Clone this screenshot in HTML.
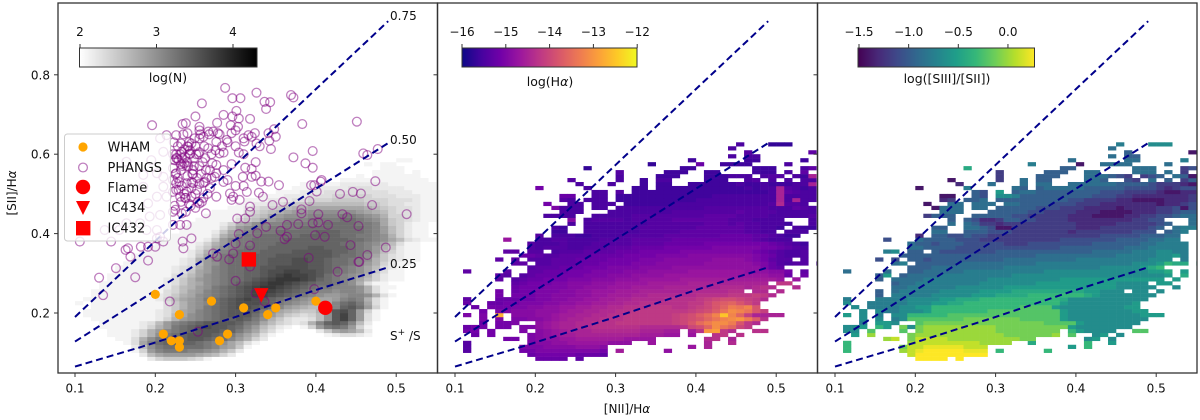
<!DOCTYPE html>
<html lang="en">
<head>
<meta charset="utf-8">
<title>[SII]/Hα versus [NII]/Hα diagnostic panels</title>
<style>
html,body{margin:0;padding:0;background:#fff;width:1200px;height:420px;overflow:hidden}
svg{display:block;filter:blur(.35px)}
text{font-family:"DejaVu Sans","Liberation Sans",sans-serif;fill:#111;font-size:12px}
</style>
</head>
<body>
<svg id="chart" width="1200" height="420" viewBox="0 0 1200 420" xmlns="http://www.w3.org/2000/svg">
<defs>
<linearGradient id="cb-gray" x1="0" x2="1" y1="0" y2="0"><stop offset="0" stop-color="#fff"/><stop offset="1" stop-color="#000"/></linearGradient>
<linearGradient id="cb-plasma" x1="0" x2="1" y1="0" y2="0"><stop offset="0" stop-color="#0d0887"/><stop offset=".111" stop-color="#46039f"/><stop offset=".222" stop-color="#7201a8"/><stop offset=".333" stop-color="#9c179e"/><stop offset=".444" stop-color="#bd3786"/><stop offset=".556" stop-color="#d8576b"/><stop offset=".667" stop-color="#ed7953"/><stop offset=".778" stop-color="#fb9f3a"/><stop offset=".889" stop-color="#fdca26"/><stop offset="1" stop-color="#f0f921"/></linearGradient>
<linearGradient id="cb-viridis" x1="0" x2="1" y1="0" y2="0"><stop offset="0" stop-color="#440154"/><stop offset=".111" stop-color="#482878"/><stop offset=".222" stop-color="#3e4989"/><stop offset=".333" stop-color="#31688e"/><stop offset=".444" stop-color="#26828e"/><stop offset=".556" stop-color="#1f9e89"/><stop offset=".667" stop-color="#35b779"/><stop offset=".778" stop-color="#6ece58"/><stop offset=".889" stop-color="#b5de2b"/><stop offset="1" stop-color="#fde725"/></linearGradient>
<clipPath id="clip-0"><rect x="58" y="3" width="379.5" height="370"/></clipPath>
<clipPath id="clip-1"><rect x="437.5" y="3" width="380" height="370"/></clipPath>
<clipPath id="clip-2"><rect x="817.5" y="3" width="379.5" height="370"/></clipPath>
</defs>
<rect width="1200" height="420" fill="#fff"/>
<g id="plots"></g>
<g id="axes"></g>

<text transform="translate(16,193) rotate(-90)" text-anchor="middle">[SII]/H<tspan font-style="italic">α</tspan></text>
<text x="627" y="413" text-anchor="middle">[NII]/H<tspan font-style="italic">α</tspan></text>

<text x="390" y="20">0.75</text>
<text x="390" y="144">0.50</text>
<text x="390" y="268">0.25</text>
<text x="390" y="340">S<tspan dy="-5" font-size="9">+</tspan><tspan dy="5"> /S</tspan></text>

<g id="legend">
<rect x="64.5" y="134" width="106" height="107" rx="3" fill="#fff" fill-opacity=".8" stroke="#ccc" stroke-width="1"/>
<circle cx="83" cy="147" r="4.6" fill="#ffa500"/>
<circle cx="83" cy="167.5" r="4.4" fill="none" stroke="#800080" stroke-opacity=".5" stroke-width="1.3"/>
<circle cx="83" cy="187" r="7.2" fill="#f00"/>
<path d="M76 201 H90 L83 215 Z" fill="#f00"/>
<rect x="76" y="221" width="14.4" height="14.4" fill="#f00"/>
<text x="107.5" y="151.5" style="font-size:13px">WHAM</text>
<text x="107.5" y="172" style="font-size:13px">PHANGS</text>
<text x="107.5" y="192" style="font-size:13px">Flame</text>
<text x="107.5" y="212" style="font-size:13px">IC434</text>
<text x="107.5" y="232.5" style="font-size:13px">IC432</text>
</g>

<g id="colorbars">
<rect x="79.5" y="48" width="177.5" height="19" fill="url(#cb-gray)" stroke="#333" stroke-width="1"/>
<text x="168" y="82" text-anchor="middle" style="font-size:12.5px">log(N)</text>
<rect x="462" y="48" width="175" height="19" fill="url(#cb-plasma)" stroke="#333" stroke-width="1"/>
<text x="550" y="86" text-anchor="middle" style="font-size:12.5px">log(H<tspan font-style="italic">α</tspan>)</text>
<rect x="858" y="48" width="176.5" height="19" fill="url(#cb-viridis)" stroke="#333" stroke-width="1"/>
<text x="947" y="83" text-anchor="middle" style="font-size:12.5px">log([SIII]/[SII])</text>
</g>
</svg>

<script>
// ---------- axis ticks ----------
const xTicks = [0.1, 0.2, 0.3, 0.4, 0.5];
const xTickLabels = ["0.1", "0.2", "0.3", "0.4", "0.5"];
const yTicks = [0.2, 0.4, 0.6, 0.8];
const yTickLabels = ["0.2", "0.4", "0.6", "0.8"];
const cbTicksN = [2, 3, 4];
const cbLabelsN = ["2", "3", "4"];
const cbTicksHa = [-16, -15, -14, -13, -12];
const cbLabelsHa = ["\u221216", "\u221215", "\u221214", "\u221213", "\u221212"];
const cbTicksS = [-1.5, -1.0, -0.5, 0.0];
const cbLabelsS = ["\u22121.5", "\u22121.0", "\u22120.5", "0.0"];

// ---------- S+/S model curves ----------
const curveNii = [0.10, 0.18, 0.30, 0.40, 0.49];
const curveSii075 = [0.190, 0.343, 0.573, 0.764, 0.935];
const curveSii050 = [0.128, 0.231, 0.385, 0.513, 0.628];
const curveSii025 = [0.065, 0.113, 0.190, 0.258, 0.315];

// ---------- point samples ----------
const whamNii = [0.20, 0.21, 0.22, 0.23, 0.23, 0.23, 0.27, 0.28, 0.29, 0.31, 0.34, 0.35, 0.40];
const whamSii = [0.247, 0.147, 0.130, 0.130, 0.114, 0.196, 0.230, 0.130, 0.147, 0.213, 0.196, 0.213, 0.230];
const flameNii = [0.4117];
const flameSii = [0.213];
const ic434Nii = [0.332];
const ic434Sii = [0.245];
const ic432Nii = [0.3165];
const ic432Sii = [0.335];

const phangsNii = [
.287,.326,.296,.306,.336,.343,.338,.369,.372,.258,.301,.285,.296,.304,.318,.25,.238,.234,.196,.255,.277,.294,.303,.383,.451,.348,.341,.35,.342,.344,.324,.316,.326,.272,.266,.278,.295,.255,.226,.214,.206,.24,.26,.276,.289,.311,.32,.266,.232,.241,.245,.233,.243,.237,.226,.28,.285,.304,.396,.372,.459,.464,.477,.387,.396,.325,.312,.32,.295,.271,.276,.255,.236,.224,.226,.247,.276,.274,.309,.32,.325,.332,.341,.354,.407,.406,.394,.398,.474,.43,.446,.456,.401,.226,.239,.247,.26,.226,.239,.245,.231,.255,.276,.293,.297,.305,.295,.314,.329,.334,.346,.359,.392,.382,.318,.47,
.513,.433,.439,.453,.415,.403,.382,.378,.364,.356,.361,.364,.396,.403,.399,.411,.443,.487,.464,.454,.453,.427,.391,.338,.327,.302,.312,.318,.304,.3,.318,.297,.292,.272,.277,.318,.3,.325,.336,.398,.245,.234,.235,.263,.231,.239,.191,.151,.13,.175,.135,.218,.253,.166,.163,.169,.182,.191,.2,.21,.202,.222,.233,.222,
.106,.145,.137,.155,.164,.181,.193,.206,.202,.206,.189,.164,.21,.195,.202,.21,.185,.21,.185,.214,.202,.191,
.228,.236,.243,.25,.222,.229,.24,.248,.222,.232,.24,.252,.222,.233,.245,.255,.262,.268,.222,.232,.242,.25,.225,.238,.27,.262,.255,.268,.285,.29,.3,.31,.283,.3,.31,.33,
.223,.227,.231,.235,.239,.243,.247,.251,.255,.259,.263,.267,.225,.229,.233,.237,.241,.245,.249,.253,.257,.261,.265,.224,.228,.232,.236,.24,.244,.248,.252,.256,.26,.264,.226,.23,.234,.238,.242,.246,.25,.254,.258,.28,.29,.3,.31,.27,.275,.285];
const phangsSii = [
.767,.755,.741,.741,.732,.731,.714,.749,.743,.728,.709,.699,.695,.69,.689,.695,.678,.676,.673,.669,.679,.673,.669,.676,.682,.663,.653,.644,.634,.613,.653,.648,.627,.657,.657,.653,.653,.64,.648,.648,.64,.653,.644,.631,.636,.632,.644,.615,.627,.619,.627,.606,.602,.594,.59,.602,.604,.604,.608,.592,.602,.598,.613,.577,.566,.58,.566,.563,.575,.577,.573,.57,.577,.585,.552,.56,.552,.543,.543,.543,.546,.531,.531,.522,.535,.531,.522,.522,.532,.5,.505,.501,.506,.527,.527,.527,.528,.51,.506,.493,.493,.476,.493,.501,.493,.485,.485,.505,.503,.493,.472,.48,.482,.461,.468,.472,
.449,.449,.441,.419,.422,.449,.451,.424,.422,.407,.386,.392,.426,.428,.396,.392,.371,.365,.346,.329,.329,.304,.339,.417,.401,.438,.438,.455,.399,.375,.37,.35,.335,.35,.342,.317,.281,.25,.229,.26,.388,.38,.363,.451,.422,.422,.332,.313,.289,.29,.245,.229,.153,.363,.359,.342,.367,.367,.367,.38,.388,.455,.451,.422,
.38,.38,.409,.409,.426,.426,.443,.447,.409,.392,.409,.581,.606,.585,.552,.543,.548,.518,.518,.493,.493,.476,
.62,.612,.61,.62,.6,.585,.58,.57,.565,.56,.545,.54,.535,.52,.515,.525,.53,.515,.505,.48,.475,.465,.46,.455,.6,.59,.605,.56,.56,.535,.52,.52,.62,.62,.6,.62,
.63,.59,.6,.65,.57,.6,.55,.6,.66,.58,.56,.65,.55,.51,.59,.49,.57,.53,.64,.48,.55,.62,.5,.47,.54,.575,.5,.62,.47,.59,.51,.65,.49,.54,.6,.53,.57,.49,.63,.55,.5,.6,.48,.65,.63,.66,.64,.54,.61,.53];

// ---------- 2-D histograms ----------
// Row index = [SII]/Halpha bin (0.08 + 0.01*row). Each row: [first [NII]/Halpha column (0.10 + 0.01*col), bin values...]; 0 = empty bin.
// Values are tenths of a dex above the colour-bar minimum.
const heatLogN = [
[9,2,4,5,5,5,4,3,1],
[8,2,6,8,9,9,9,9,8,7,6,4,2],
[7,1,4,9,11,12,12,12,11,11,10,9,7,5,2],
[7,2,6,10,12,13,13,13,13,13,12,11,9,8,5,1],
[6,1,3,8,11,13,14,14,14,14,13,12,11,10,8,6,3,1],
[5,1,1,3,7,10,12,13,14,14,15,15,14,13,13,11,9,7,4,2],
[4,1,1,1,2,4,7,10,12,13,14,15,15,15,14,13,12,10,8,6,3,1,0,0,0,0,0,0,1,2,3,3,2,1],
[4,1,1,1,2,4,7,9,11,12,13,14,15,15,15,14,14,12,10,8,5,3,1,0,0,0,0,2,5,8,9,8,6,2],
[3,1,1,1,1,1,2,4,7,9,12,13,14,15,16,15,15,14,13,11,9,6,4,2,1,0,1,4,9,12,13,12,9,4,1],
[3,1,1,1,1,1,2,3,6,9,11,12,13,14,15,15,15,15,14,12,11,8,6,4,3,2,3,7,11,14,15,14,11,6,2],
[2,1,1,1,1,1,1,1,1,2,4,7,9,10,11,12,13,14,14,15,14,12,10,7,5,3,2,2,3,6,10,15,17,14,9,3,1],
[1,1,1,1,1,1,1,1,1,1,2,3,6,8,10,11,12,13,14,15,15,15,13,11,9,7,5,4,3,4,6,10,15,17,14,9,3,1],
[1,1,1,1,1,1,1,1,1,1,2,3,5,8,9,11,12,13,14,15,15,15,14,12,10,8,7,6,5,5,7,11,15,16,14,9,4,1],
[1,0,1,1,1,1,1,1,1,1,1,3,5,7,9,10,12,13,14,15,16,16,15,14,13,11,9,8,7,6,6,8,11,14,15,13,9,4,1],
[0,1,0,1,1,1,1,1,1,1,1,1,3,5,7,9,10,11,13,14,15,16,16,16,15,14,12,11,10,9,8,7,8,11,13,14,12,8,3,1],
[1,1,1,1,1,1,1,1,1,1,2,4,6,8,9,10,12,13,14,15,16,17,16,15,14,13,12,11,10,9,8,8,9,11,12,11,7,3,1],
[2,1,1,1,1,1,1,1,1,2,3,5,7,8,10,11,12,13,14,15,16,17,17,16,15,14,13,12,11,10,9,9,10,11,11,10,7,3,1],
[2,1,1,1,1,1,1,1,1,1,3,4,6,8,9,11,12,13,14,15,16,17,18,17,16,15,14,13,12,11,11,10,11,11,10,7,3,1],
[3,1,1,1,1,1,1,1,1,2,4,6,7,9,10,12,13,14,15,16,17,18,18,17,16,15,14,13,12,12,11,11,11,10,7,3,1,1],
[3,1,1,1,1,1,1,1,1,2,3,5,7,8,10,11,12,13,14,15,16,17,18,18,17,16,15,14,13,13,12,11,10,7,3,1,1],
[4,1,1,1,1,1,1,1,2,3,5,7,9,10,11,12,13,13,14,15,16,17,18,18,18,17,16,14,13,12,11,10,8,6,4,2,1,1],
[4,1,1,1,1,1,1,1,1,3,4,6,8,10,11,12,13,13,14,14,15,16,17,18,17,17,16,15,13,12,11,10,9,7,4,2,1,1],
[5,1,1,1,1,1,1,1,2,3,5,8,9,11,12,13,13,14,14,15,16,16,17,17,16,16,15,14,13,12,11,10,8,5,3,1,1],
[5,1,1,1,1,1,1,1,2,3,4,7,9,11,12,13,13,14,14,15,15,16,16,16,16,15,15,14,13,12,11,10,8,6,3,2,1],
[6,1,1,1,1,1,1,1,2,3,6,9,10,12,13,13,14,14,14,15,15,15,16,16,15,15,14,13,13,12,11,9,7,4,2,1,1],
[7,1,1,1,1,1,1,2,3,7,9,11,12,13,13,13,14,14,15,15,15,16,16,15,15,14,13,13,12,11,10,7,5,3,2,1,1],
[7,1,1,1,1,1,1,1,2,5,8,10,12,13,13,13,14,14,14,15,15,15,15,15,15,15,14,13,13,12,10,8,5,3,2,1,1],
[8,1,1,1,1,1,1,2,4,7,9,11,12,13,13,13,14,14,14,14,15,15,15,15,15,14,14,13,12,11,9,6,4,2,1,1],
[9,1,1,1,1,1,1,3,5,8,10,11,12,13,13,13,14,14,14,14,14,15,15,14,14,14,13,12,11,9,7,5,2,1,1],
[10,1,1,1,1,1,2,4,7,9,11,12,12,13,13,13,14,14,14,14,14,14,14,14,13,13,12,11,10,8,6,3,1,1],
[11,1,1,1,1,1,2,5,9,11,12,12,13,13,13,13,14,14,14,14,14,14,14,14,13,13,12,11,10,8,6,3,2,1,1],
[12,1,1,1,1,1,3,7,9,11,12,12,13,13,13,13,13,14,14,14,14,14,13,13,12,12,11,10,7,4,2,1,1],
[13,1,1,1,1,2,5,8,10,11,12,12,12,13,13,13,13,13,14,14,14,13,13,13,12,11,9,6,4,2,1,1],
[13,1,1,1,1,1,3,6,9,10,11,11,12,12,12,12,13,13,13,13,13,13,13,13,12,11,9,6,4,2,1,1],
[14,1,1,1,1,2,4,7,8,10,11,11,11,12,12,12,12,12,13,13,13,13,12,12,11,8,5,4,2,1,1],
[15,1,1,1,1,1,3,5,6,8,9,10,11,11,11,12,12,12,12,13,13,12,11,10,8,5,4,3,2,1,1],
[16,1,1,1,1,2,4,5,6,8,9,10,10,10,11,11,11,11,12,12,11,10,9,7,4,4,3,2,1,1],
[17,1,1,1,1,3,4,5,6,7,8,9,9,10,10,10,10,10,10,9,8,7,6,4,3,3,2,1,1],
[19,1,1,2,3,4,4,5,6,7,7,8,8,8,8,8,8,8,7,6,5,4,3,3,2,1,1],
[20,1,1,2,2,3,3,4,5,5,6,6,6,6,6,6,6,5,5,4,3,3,2,2,1,1],
[21,1,1,1,2,2,2,3,3,4,4,4,5,5,5,5,4,4,4,3,3,3,2,1,1],
[23,1,1,1,2,2,2,3,3,3,4,4,4,4,4,3,3,3,2,2,2,1,1],
[25,1,1,1,2,2,2,3,3,3,3,3,3,3,3,2,2,2,1,1,1],
[27,1,1,1,2,2,2,2,3,3,3,2,2,2,2,1,1,1,1],
[28,1,1,1,1,1,2,2,2,2,2,2,1,1,1,1,1,1],
[33,1,1,1,1,1,1,1,1,1,1,1],
[35,1,0,1,1,1,1,1,1],
[37,1,1,1,1,0,1],
[38,1,1,1],
[36,1,0,1,1],
[40,1,1]
];

const heatLogHa = [
[10,8,8,8,8,0,7],
[9,8,9,9,9,9,9,8,8,8,7],
[1,6,0,0,0,0,0,0,9,9,10,10,10,10,10,10,10,10,9,0,14,0,0,0,0,0,12],
[1,6,0,0,0,0,0,0,10,10,10,11,11,11,11,12,12,12,11,0,0,0,0,0,0,0,0,0,0,13,0,15],
[1,6,0,0,0,0,0,0,0,10,11,11,12,12,13,13,13,13,13,12,12,12,0,0,13,0,0,0,0,0,0,15,0,0,16],
[6,9,9,0,10,11,12,12,13,13,14,14,14,14,14,14,13,13,13,13,0,0,0,0,0,0,16,17,0,15],
[2,8,0,9,0,0,0,0,10,11,12,13,14,14,15,15,15,15,15,15,15,15,14,14,14,13,13,0,13,0,0,17,18,0,17],
[1,9,9,0,9,0,0,0,10,0,11,12,13,14,15,15,15,16,16,16,16,16,16,15,15,15,14,14,0,14,17,30,31,18,16,0,0,17,17],
[1,8,9,9,0,9,9,0,10,10,12,13,14,15,15,16,16,17,17,17,17,17,17,16,16,16,16,16,17,20,21,24,29,26,24,20,18],
[3,8,0,9,9,10,0,0,12,13,14,15,15,16,16,17,17,17,18,18,18,18,18,18,18,19,20,22,25,27,29,29,27,22,18,16],
[3,10,0,10,0,10,10,11,11,12,13,14,15,15,16,16,17,17,17,18,18,18,18,18,18,19,20,21,22,24,26,28,29,30,27,23,17],
[1,10,0,10,0,33,0,11,11,11,12,12,13,14,14,15,15,16,16,17,17,18,18,18,18,18,18,19,20,21,23,25,28,35,28,24,19,15,15,15,15],
[3,9,0,10,10,11,11,11,12,12,12,13,14,14,15,15,16,16,17,17,18,18,18,18,18,18,18,19,20,21,23,26,29,28,26,22,19],
[2,8,0,9,9,9,10,10,11,11,12,12,13,13,14,14,15,15,16,16,17,17,17,18,18,18,17,17,18,19,20,22,24,27,26,28,22],
[1,8,0,0,8,8,9,9,10,10,10,11,11,12,12,13,13,14,14,15,15,16,16,17,17,17,17,17,17,18,18,20,22,23,24,22,20,18],
[1,7,0,0,0,8,8,8,9,9,10,10,11,11,12,12,13,13,14,14,15,15,16,16,16,16,17,17,17,17,18,19,20,21,21,20,19,18,16],
[5,9,0,9,9,9,10,10,11,11,11,12,12,13,13,14,14,14,15,15,16,16,16,16,16,16,17,17,17,17,18,18,18,19,18,16],
[5,9,0,8,9,9,10,10,10,11,11,12,12,13,13,13,14,14,14,15,15,15,15,15,15,16,16,16,16,16,17,17,0,16,16,0,16],
[7,8,9,9,9,10,10,10,11,11,12,12,12,13,13,13,14,14,14,14,15,15,15,15,15,15,15,16,16,16,15,16,17,16,0,0,16],
[7,7,8,9,9,9,10,10,11,11,11,12,12,12,13,13,13,13,14,14,14,14,14,15,15,15,15,15,15,15,15,15,15,0,18,18],
[5,7,0,6,7,8,8,9,9,9,10,10,10,11,11,11,12,12,12,13,13,13,13,13,14,14,14,14,14,14,14,14,14,14,14,14,13,0,13],
[5,7,6,0,6,7,8,8,8,9,9,9,10,10,10,11,11,11,12,12,12,12,13,13,13,13,13,13,13,13,13,13,13,13,13,12,12,8,0,8],
[1,7,0,0,0,0,7,0,0,7,7,8,8,8,9,9,9,10,10,10,10,11,11,11,12,12,12,12,12,13,13,13,13,13,13,13,12,12,12,11,11,9,0,7],
[9,6,7,7,7,8,8,8,9,9,9,10,10,10,10,11,11,11,11,12,12,12,12,12,12,12,12,12,12,12,10,8,7],
[7,7,7,0,6,6,7,7,7,8,8,8,9,9,9,9,10,10,10,11,11,11,11,11,11,12,12,12,12,12,12,11,10,8,6,5,6,6,0,5],
[5,7,0,7,0,6,6,6,7,7,7,8,8,8,8,9,9,9,9,10,10,10,11,11,11,11,11,11,12,12,12,12,11,10,9,7,6,6,0,6],
[8,8,8,7,6,6,7,7,7,7,8,8,8,8,9,9,9,9,10,10,10,10,11,11,11,11,11,11,11,11,10,9,8,6,5,5,6],
[6,7,7,0,6,6,0,5,6,6,6,7,7,7,7,8,8,8,9,9,9,9,9,10,10,10,10,10,10,10,10,10,9,8,7,6,5,5,6],
[9,6,5,6,6,6,5,5,6,6,6,7,7,7,8,8,8,8,9,9,9,9,9,9,10,10,10,10,10,10,9,9,8,7,6,5],
[9,6,5,5,5,6,5,5,5,6,6,6,6,6,7,7,7,7,8,8,8,8,8,9,9,9,9,9,9,9,9,8,7,6,5,4],
[6,13,0,0,0,5,5,6,6,5,5,5,5,6,6,6,6,7,7,7,7,7,8,8,8,8,8,8,8,8,8,8,7,6,5,5,5],
[10,6,0,5,5,5,4,4,5,5,5,5,6,6,6,6,6,7,7,7,7,7,7,7,8,8,8,8,7,7,6,5,4,4],
[12,4,4,0,0,5,5,5,5,5,5,5,6,6,6,6,6,7,7,7,7,7,7,7,7,6,6,5,5,0,5,5,5],
[12,5,4,0,0,5,5,5,5,5,5,5,6,6,6,6,6,6,6,7,7,7,7,7,7,6,6,5,5,4,0,5,4,4],
[14,5,0,5,5,5,5,5,5,5,5,6,6,6,6,6,6,6,7,7,7,6,7,6,6,5,5,5,4,0,0,5],
[14,11,0,5,6,6,6,6,5,6,6,6,6,6,7,7,7,7,7,7,7,6,6,6,5,5,5,5,0,0,0,5],
[11,5,5,5,5,0,0,5,5,5,5,5,6,6,6,6,6,6,6,6,6,7,7,7,7,6,6,6,6,5,5,5,5,5,6],
[13,5,5,5,0,0,0,5,5,5,5,5,5,5,5,6,6,6,6,6,6,6,6,7,6,6,6,6,5,5,5,5,5],
[12,10,5,5,5,0,5,5,0,5,5,5,5,5,5,5,5,5,5,5,6,6,6,6,6,6,6,6,5,5,5,7,6,5],
[11,9,0,0,5,5,0,5,5,5,0,4,4,4,4,4,4,5,5,5,5,5,5,5,5,5,5,5,5,6,16,6,6,5],
[13,6,5,0,5,5,5,0,4,4,4,4,4,4,4,4,4,4,5,5,5,5,5,5,5,5,5,5,15,5,15,5,5],
[13,8,8,0,0,5,5,0,4,4,4,4,4,4,4,4,4,4,4,4,5,5,5,5,5,5,5,5,15,5,5,5,5],
[17,5,5,0,6,0,4,4,4,4,4,4,4,4,4,4,4,4,4,4,4,4,4,5,15,7,6,5,5],
[10,9,0,0,0,0,0,5,0,0,0,0,0,4,4,0,4,4,4,4,4,4,4,4,4,4,4,5,4,5,5,15,6,5,4,5],
[15,5,0,0,0,5,0,0,0,4,0,4,4,0,0,4,4,4,4,4,4,5,4,4,5,4,4,4,5,5,15],
[14,6,0,0,0,0,0,5,0,0,4,0,5,5,0,0,0,0,4,4,4,0,0,5,6,0,5,0,5,0,5,5],
[20,5,0,0,0,0,4,4,4,0,0,0,4,4,4,5,5,5,0,5,6,6,0,5,4,15],
[20,6,0,0,0,0,0,4,4,4,0,0,4,4,0,0,0,0,4,4,4,0,5,0,7],
[16,3,0,0,0,0,0,0,0,0,0,0,0,4,4,0,0,0,0,0,0,0,4,4,4,0,0,0,5,7],
[24,3,0,0,0,0,0,8,0,0,4,4,4,4,0,0,0,0,5],
[29,4,0,0,0,0,0,0,4,4,0,0,0,0,0,4],
[34,5,0,5,5],
[36,6,0,0,0,0,0,0,0,7],
[34,5],
[35,5,0,0,0,3,3,3]
];

const heatLogS3S2 = [
[10,17,17,18,18,0,18],
[9,15,17,17,18,18,18,17,17,17,17],
[1,11,0,0,0,0,0,0,14,15,16,17,17,17,17,17,16,16,16,0,11,0,0,0,0,0,11],
[1,11,0,0,0,0,0,0,13,15,15,16,16,16,16,16,15,15,15,0,0,0,0,0,0,0,0,0,0,9,0,11],
[1,11,0,0,0,0,0,0,0,14,15,15,15,15,15,15,15,15,14,14,14,14,0,0,10,0,0,0,0,0,0,11,0,0,9],
[6,14,15,0,13,15,15,15,15,14,14,14,14,14,14,14,14,14,13,13,0,0,0,0,0,0,8,9,0,8],
[2,9,0,14,0,0,0,0,13,14,14,14,14,14,14,14,14,14,14,14,13,13,13,13,13,13,14,0,12,0,0,8,9,0,8],
[1,8,8,0,12,0,0,0,12,0,13,14,14,14,14,14,14,14,14,14,13,13,13,13,13,13,13,13,0,11,9,8,8,8,8,0,0,12,12],
[1,8,8,9,0,11,9,0,13,8,13,14,14,14,14,14,14,14,14,14,13,13,13,13,13,13,13,13,13,9,8,8,8,8,8,8,8],
[3,7,0,9,9,8,0,0,12,13,13,13,13,13,13,13,13,13,13,13,13,13,13,13,12,12,12,12,9,8,8,8,8,8,8,8],
[3,8,0,8,0,7,8,12,12,12,12,12,12,12,13,13,13,13,13,13,13,12,12,12,12,12,9,8,8,8,8,8,8,8,8,8,8],
[1,9,0,8,0,7,0,8,8,11,11,11,11,11,12,12,12,12,12,12,12,12,12,12,12,12,12,12,9,8,8,8,8,8,8,8,8,8,9,9,9],
[3,8,0,8,7,7,8,8,8,9,11,11,11,11,11,11,11,12,12,12,12,12,12,12,12,12,9,8,8,8,8,8,8,8,8,9,9],
[2,8,0,7,7,7,7,8,8,9,9,11,11,11,11,11,11,11,11,11,11,11,12,12,12,12,9,8,8,8,8,8,8,8,8,9,9],
[1,8,0,0,7,7,7,7,7,8,8,8,9,9,10,10,11,11,11,11,11,11,11,11,11,11,11,11,9,8,8,8,8,8,8,8,8,9],
[1,7,0,0,0,7,7,7,7,8,8,8,8,9,9,10,10,10,11,11,11,11,11,11,11,11,11,11,10,8,8,8,8,8,8,8,8,8,8],
[5,5,0,7,7,7,7,7,8,8,8,8,8,9,9,9,10,10,10,10,11,11,11,11,11,11,11,10,9,8,8,8,8,8,8,8],
[5,5,0,6,7,7,7,7,7,8,8,8,8,8,9,9,9,9,10,10,10,10,10,10,10,10,10,9,9,8,8,8,0,8,8,0,8],
[7,6,6,7,7,7,7,7,7,8,8,8,8,8,8,9,9,9,9,9,9,9,9,9,9,9,9,9,9,8,8,8,8,8,0,0,8],
[7,5,6,6,7,7,7,7,7,7,7,7,8,8,8,8,8,8,8,9,9,9,9,9,9,9,9,9,9,8,8,8,8,0,9,9],
[5,5,0,6,6,6,6,7,7,7,7,7,7,7,7,8,8,8,8,8,8,8,8,8,9,9,9,9,9,9,9,9,9,9,9,9,9,0,9],
[5,5,9,0,5,6,6,6,6,7,7,7,7,7,7,7,7,7,8,8,8,8,8,8,8,8,8,8,8,8,8,8,8,8,8,8,8,9,0,10],
[1,6,0,0,0,0,6,0,0,5,5,6,6,6,6,6,7,7,7,7,7,7,7,7,7,7,8,8,8,8,8,8,8,8,8,8,8,8,8,9,9,10,0,9],
[9,5,5,5,6,6,6,6,6,6,6,6,6,7,7,7,7,7,7,7,7,7,7,7,7,8,8,8,8,8,9,10,11],
[7,6,7,0,5,5,5,5,5,6,6,6,6,6,6,6,6,6,6,7,7,7,7,7,7,7,7,7,7,7,7,8,8,8,9,11,10,10,0,10],
[5,4,0,4,0,5,5,4,5,5,5,5,5,5,5,5,5,6,6,6,6,6,6,6,6,6,7,7,7,7,7,7,7,7,7,8,8,8,0,7],
[8,5,5,5,5,5,5,5,5,5,5,5,5,5,5,5,5,5,6,6,6,6,6,6,6,6,6,6,7,7,7,7,7,8,8,9,7],
[6,7,8,0,5,5,0,5,4,4,4,4,4,4,4,5,5,5,5,5,5,5,5,5,5,5,5,6,6,6,6,6,7,7,7,8,8,7,7],
[9,6,6,5,5,5,5,4,4,4,4,4,4,4,4,4,4,4,4,4,5,5,5,5,5,5,5,5,6,6,6,7,7,7,7,7],
[9,6,5,5,4,5,5,5,4,4,4,4,4,3,3,3,4,4,4,4,4,4,4,4,5,5,5,5,5,5,6,6,7,7,7,7],
[6,4,0,0,0,6,5,5,5,5,4,4,4,3,3,3,3,3,3,3,3,3,3,4,4,4,4,4,4,4,5,5,5,5,6,6,7,7],
[10,2,0,5,5,4,4,5,4,4,3,3,3,3,3,3,3,3,3,3,3,3,3,3,4,4,4,4,4,5,5,5,6,6],
[12,6,6,0,0,5,5,5,4,4,4,3,3,3,3,3,3,3,2,3,3,3,3,3,3,3,4,4,4,0,5,6,7],
[12,5,5,0,0,6,6,5,4,1,1,3,3,3,3,3,3,3,3,2,2,2,3,3,3,3,3,3,4,5,0,6,7,7],
[14,6,0,6,5,3,3,2,3,3,3,3,3,3,3,3,3,2,2,2,2,2,3,3,3,3,3,4,5,0,0,6],
[14,5,0,5,4,2,2,3,5,5,4,4,3,3,3,3,2,2,2,2,2,2,2,2,3,3,4,4,0,0,0,6],
[11,3,5,5,5,0,0,5,5,5,5,5,4,4,3,3,3,3,3,2,2,2,1,1,1,1,2,2,3,3,4,4,5,6,6],
[13,6,6,6,0,0,0,5,5,5,5,5,4,4,3,3,3,3,2,2,2,1,1,1,1,2,2,2,3,3,4,5,5],
[12,1,6,6,6,0,6,6,0,5,5,5,5,5,4,4,4,3,3,3,2,2,2,2,1,2,2,2,2,3,3,4,1,4],
[11,1,0,0,6,6,0,6,6,6,0,6,6,5,5,5,5,4,4,4,3,3,3,2,2,2,2,2,2,2,1,2,2,3,4],
[13,2,3,0,5,5,6,0,5,5,5,5,5,5,5,5,5,4,4,3,3,3,3,2,2,1,1,1,1,2,2,2,3,3],
[13,1,1,0,0,5,4,0,8,8,7,5,5,5,5,5,5,5,5,5,4,4,4,3,3,2,2,2,2,2,2,2,3],
[17,5,4,0,9,0,5,6,6,5,5,5,5,5,5,5,5,4,4,4,3,3,3,3,2,1,1,2,2],
[10,1,0,0,0,0,0,7,0,0,0,0,0,6,5,0,5,6,6,6,6,6,5,5,5,5,5,4,4,4,4,3,2,3,4,4,5],
[15,2,0,0,0,6,0,0,0,6,0,6,6,0,0,6,6,6,6,6,6,5,5,5,5,4,3,3,3,2,1],
[14,1,0,0,0,0,0,3,0,0,6,0,5,5,0,0,0,0,6,6,5,0,0,4,3,0,6,0,5,0,3,5],
[20,3,0,0,0,0,5,5,5,0,0,0,6,6,6,5,4,3,0,3,4,5,0,6,5,1],
[20,3,0,0,0,0,0,5,5,5,0,0,6,6,0,0,0,0,6,6,6,0,6,0,3],
[16,10,0,0,0,0,0,0,0,0,0,0,0,5,5,0,0,0,0,0,0,0,6,6,6,0,0,0,3,4],
[24,7,0,0,0,0,0,1,0,0,6,6,6,6,0,0,0,0,6],
[29,6,0,0,0,0,0,0,6,6,0,0,0,0,0,7],
[34,6,0,5,5],
[36,5,0,0,0,0,0,0,0,1],
[34,6],
[35,7,0,0,0,8,8,8]
];

// ---------- colour ramps (RGB stops) ----------
const plasmaStops = [[13,8,135],[70,3,159],[114,1,168],[156,23,158],[189,55,134],[216,87,107],[237,121,83],[251,159,58],[253,202,38],[240,249,33]];
const viridisStops = [[68,1,84],[72,40,120],[62,73,137],[49,104,142],[38,130,142],[31,158,137],[53,183,121],[110,206,88],[181,222,43],[253,231,37]];
const grayStops = [[255,255,255],[0,0,0]];

// ---------- axis functions ----------
const panelX01 = [75, 455, 835];
const panelLeft = [58, 437.5, 817.5];
const panelRight = [437.5, 817.5, 1197];
const panelTop = 3, panelBottom = 373;
const xPerUnit = 803, yPerUnit = 397;
function xScale(p, v) { return panelX01[p] + (v - 0.1) * xPerUnit; }
function yScale(v) { return 313 - (v - 0.2) * yPerUnit; }
function ramp(stops, t) {
  t = Math.max(0, Math.min(1, t));
  const f = t * (stops.length - 1), i = Math.min(stops.length - 2, Math.floor(f)), u = f - i;
  const a = stops[i], b = stops[i + 1];
  return 'rgb(' + a.map((c, n) => Math.round(c + (b[n] - c) * u)).join(',') + ')';
}
const NS = 'http://www.w3.org/2000/svg';
function mk(tag, parent, attrs) {
  const e = document.createElementNS(NS, tag);
  for (const k in attrs) e.setAttribute(k, attrs[k]);
  parent.appendChild(e);
  return e;
}

const plots = document.getElementById('plots');
const axes = document.getElementById('axes');
const colorbars = document.getElementById('colorbars');

function drawHeat(p, rows, stops, span) {
  const g = mk('g', plots, { 'clip-path': 'url(#clip-' + p + ')' });
  
  
  rows.forEach((row, k) => {
    for (let j = 1; j < row.length; j++) {
      const val = row[j];
      if (!val) continue;
      const col = row[0] + j - 1;
      const x0 = xScale(p, 0.10 + 0.01 * col), x1 = xScale(p, 0.11 + 0.01 * col);
      const y1 = yScale(0.08 + 0.01 * k), y0 = yScale(0.09 + 0.01 * k);
      const c = mk('rect', g, { x: x0, y: y0, width: x1 - x0 + 0.25, height: y1 - y0 + 0.25, fill: ramp(stops, val / span) });
      
      
    }
  });
}
drawHeat(0, heatLogN, grayStops, 23);
drawHeat(1, heatLogHa, plasmaStops, 40);
drawHeat(2, heatLogS3S2, viridisStops, 16.5);

// PHANGS regions
const phangsGroup = mk('g', plots, { 'clip-path': 'url(#clip-0)' });


phangsNii.forEach((v, i) => {
  const c = mk('circle', phangsGroup, { cx: xScale(0, v), cy: yScale(phangsSii[i]), r: 4.4, fill: 'none', stroke: '#800080', 'stroke-opacity': 0.5, 'stroke-width': 1.3 });
  
  
});

// model curves
[curveSii075, curveSii050, curveSii025].forEach((series, s) => {
  [0, 1, 2].forEach(p => {
    const pts = curveNii.map((x, i) => xScale(p, x) + ',' + yScale(series[i])).join(' ');
    const l = mk('polyline', plots, { points: pts, fill: 'none', stroke: '#00008b', 'stroke-width': 2, 'stroke-dasharray': '7 4' });
    
    
  });
});

// WHAM points
const whamGroup = mk('g', plots, {});


whamNii.forEach((v, i) => {
  const c = mk('circle', whamGroup, { cx: xScale(0, v), cy: yScale(whamSii[i]), r: 4.6, fill: '#ffa500' });
  
  
});

// Named nebulae
flameNii.forEach((v, i) => {
  const c = mk('circle', plots, { cx: xScale(0, v), cy: yScale(flameSii[i]), r: 7.2, fill: '#f00' });
  
  
});
ic434Nii.forEach((v, i) => {
  const x = xScale(0, v), y = yScale(ic434Sii[i]);
  const c = mk('polygon', plots, { points: (x - 7.2) + ',' + (y - 7) + ' ' + (x + 7.2) + ',' + (y - 7) + ' ' + x + ',' + (y + 7.5), fill: '#f00' });
  
  
});
ic432Nii.forEach((v, i) => {
  const c = mk('rect', plots, { x: xScale(0, v) - 7.2, y: yScale(ic432Sii[i]) - 7.2, width: 14.4, height: 14.4, fill: '#f00' });
  
  
});

// Axes
[0, 1, 2].forEach(p => {
  const frame = mk('rect', axes, { x: panelLeft[p], y: panelTop, width: panelRight[p] - panelLeft[p], height: panelBottom - panelTop, fill: 'none', stroke: '#333', 'stroke-width': 1.3 });
  
  
  xTicks.forEach((t, i) => {
    const x = xScale(p, t);
    const m = mk('line', axes, { x1: x, x2: x, y1: panelBottom, y2: panelBottom + 4, stroke: '#333', 'stroke-width': 1 });
    
    
    const lb = mk('text', axes, { x: x, y: 392.5, 'text-anchor': 'middle' });
    lb.textContent = xTickLabels[i];
    
    
  });
  yTicks.forEach((t, i) => {
    const y = yScale(t);
    const m = mk('line', axes, { x1: panelLeft[p] - 4, x2: panelLeft[p], y1: y, y2: y, stroke: '#333', 'stroke-width': 1 });
    
    
    if (p === 0) {
      const lb = mk('text', axes, { x: 50, y: y + 4.5, 'text-anchor': 'end' });
      lb.textContent = yTickLabels[i];
      
      
    }
  });
});

// Colour-bar ticks
function cbX(x0, pxPerUnit, base, v) { return x0 + (v - base) * pxPerUnit; }
function drawCbTicks(ticks, labels, x0, pxPerUnit, base) {
  ticks.forEach((t, i) => {
    const x = cbX(x0, pxPerUnit, base, t);
    const m = mk('line', colorbars, { x1: x, x2: x, y1: 44, y2: 48, stroke: '#333', 'stroke-width': 1 });
    
    
    const lb = mk('text', colorbars, { x: x, y: 36, 'text-anchor': 'middle' });
    lb.textContent = labels[i];
    
    
  });
}
drawCbTicks(cbTicksN, cbLabelsN, 80, 76.5, 2);
drawCbTicks(cbTicksHa, cbLabelsHa, 462, 43.8, -16);
drawCbTicks(cbTicksS, cbLabelsS, 859, 99.3, -1.5);
</script>
</body>
</html>
